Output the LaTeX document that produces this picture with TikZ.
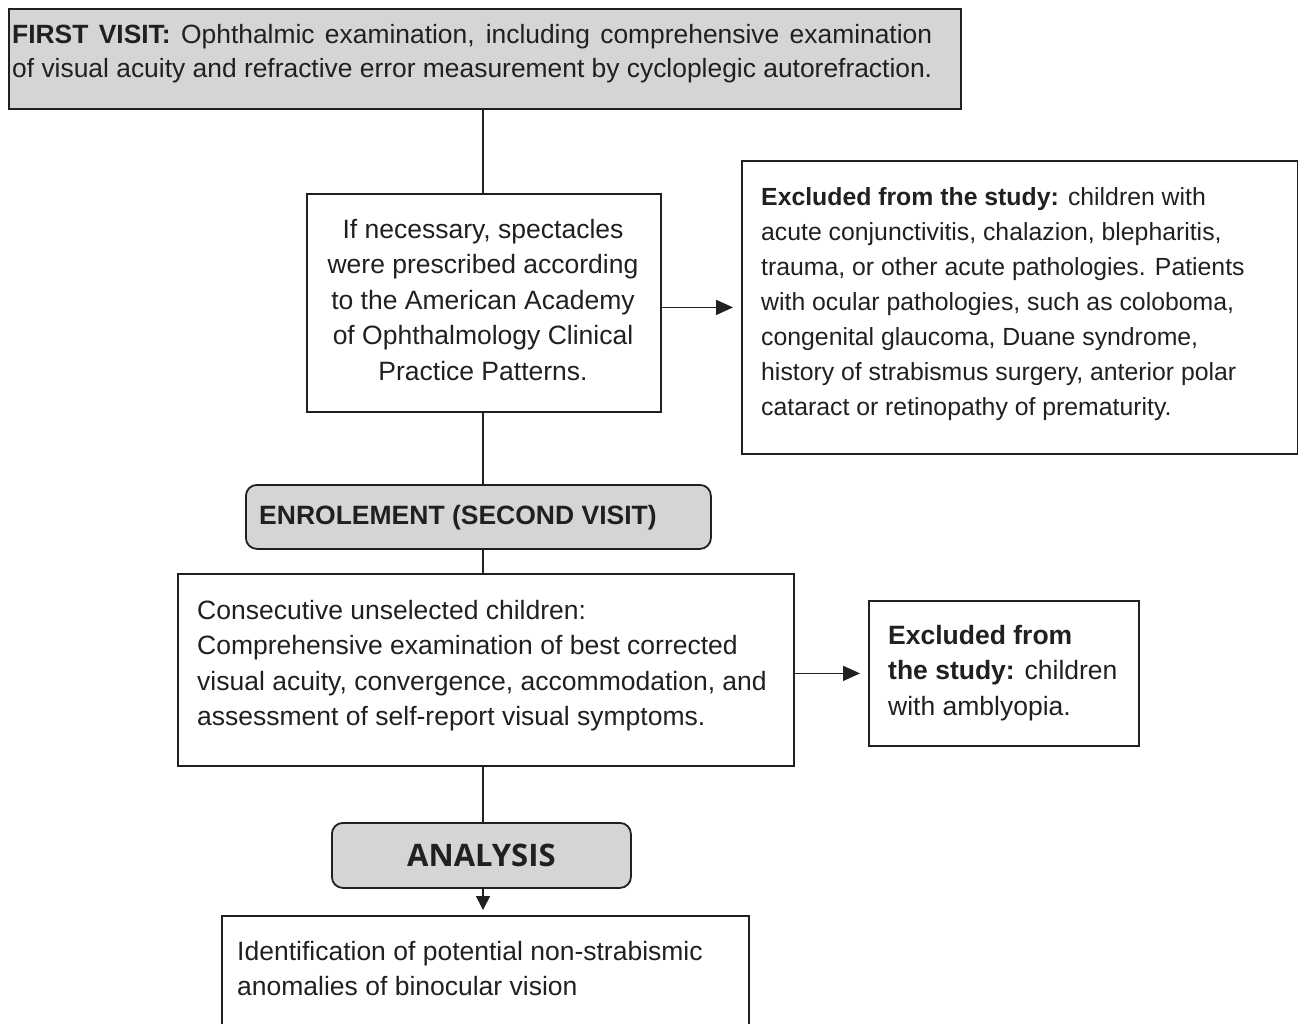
\documentclass[tikz,border=0pt]{standalone}
\usepackage{fontspec}
\setmainfont{Liberation Sans}
\newfontfamily\anafont{Open Sans}
\usetikzlibrary{arrows.meta,calc}
\definecolor{ink}{HTML}{231F20}
\definecolor{boxgray}{HTML}{D4D5D7}
\begin{document}
\begin{tikzpicture}[x=1pt,y=-1pt]
\tikzset{
 box/.style={draw=ink, line width=1.8pt, anchor=north west, inner sep=0pt},
 gbox/.style={box, fill=boxgray},
 rbox/.style={gbox, rounded corners=11pt},
 txt/.style={anchor=north west, inner sep=0pt, text=ink, font=\fontsize{26.5}{35.5}\selectfont, align=left},
 conn/.style={draw=ink, line width=1.6pt},
 arr/.style={conn, -{Triangle[length=17pt,width=15pt]}},
}
\useasboundingbox (0,0) rectangle (1298,1023);
\clip (0,0) rectangle (1298,1023);
\fill[white] (0,0) rectangle (1298,1023);

\node[gbox, minimum width=952, minimum height=100] (first) at (8,8) {};
\node[box, minimum width=354, minimum height=218] (spec) at (306,193) {};
\node[box, minimum width=556, minimum height=293] (excl1) at (741,160) {};
\node[rbox, minimum width=465, minimum height=64] (enrol) at (245,484) {};
\node[box, minimum width=616, minimum height=192] (consec) at (177,573) {};
\node[box, minimum width=270, minimum height=145] (excl2) at (868,600) {};
\node[rbox, minimum width=299, minimum height=65] (ana) at (331,822) {};
\node[box, minimum width=527, minimum height=160] (ident) at (221,915) {};

\node[txt, font=\fontsize{26.4}{34.5}\selectfont] (firsttxt) at (12,24)
 {\makebox[920pt][s]{\textbf{FIRST VISIT:} Ophthalmic examination, including comprehensive examination}\\of visual acuity and refractive error measurement by cycloplegic autorefraction.};
\node[txt, align=center, anchor=north] (spectxt) at (483,219)
 {If necessary, spectacles\\were prescribed according\\to the American Academy\\of Ophthalmology Clinical\\Practice Patterns.};
\node[txt, font=\fontsize{24.8}{35}\selectfont] (excl1txt) at (761,187)
 {\textbf{Excluded from the study:} children with\\acute conjunctivitis, chalazion, blepharitis,\\trauma, or other acute pathologies. Patients\\with ocular pathologies, such as coloboma,\\congenital glaucoma, Duane syndrome,\\history of strabismus surgery, anterior polar\\cataract or retinopathy of prematurity.};
\node[txt, font=\bfseries\fontsize{26.5}{30}\selectfont] (enroltxt) at (259,505) {ENROLEMENT (SECOND VISIT)};
\node[txt] (consectxt) at (197,600)
 {Consecutive unselected children:\\Comprehensive examination of best corrected\\visual acuity, convergence, accommodation, and\\assessment of self-report visual symptoms.};
\node[txt] (excl2txt) at (888,625)
 {\textbf{Excluded from}\\\textbf{the study:} children\\with amblyopia.};
\node[text=ink, font=\anafont\bfseries\fontsize{31}{34}\selectfont, inner sep=0pt] (anatxt) at (ana.center) {ANALYSIS};
\node[txt] (identtxt) at (237,941)
 {Identification of potential non-strabismic\\anomalies of binocular vision};

\coordinate (sp) at (483,0);
\draw[conn] (sp |- first.south) -- (sp |- spec.north);
\draw[conn] (sp |- spec.south) -- (sp |- enrol.north);
\draw[conn] (sp |- enrol.south) -- (sp |- consec.north);
\draw[conn] (sp |- consec.south) -- (sp |- ana.north);
\draw[conn, -{Triangle[length=14pt,width=14pt]}, shorten >=5pt] (sp |- ana.south) -- (sp |- ident.north);
\draw[arr, shorten >=8pt] (excl1.west -| spec.east) -- (excl1.west);
\draw[arr, shorten >=8pt] (excl2.west -| consec.east) -- (excl2.west);
\end{tikzpicture}
\end{document}
